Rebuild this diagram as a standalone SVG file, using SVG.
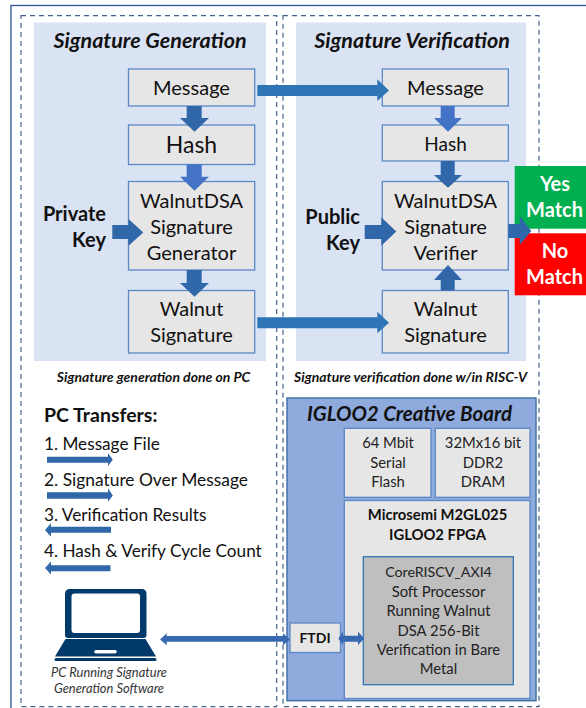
<svg xmlns="http://www.w3.org/2000/svg" width="586" height="708" viewBox="0 0 586 708">
<style>
text{font-family:"Lato","Open Sans","Liberation Sans",sans-serif;fill:#111;text-anchor:middle}
.t{font-size:20px}
.m{font-size:14.8px;fill:#222}
.h{font-size:21.5px;font-style:italic;font-weight:700}
.k{font-size:20px;font-weight:700;text-anchor:end}
.c{font-size:14px;font-style:italic;font-weight:700}
.l{font-size:17.2px;text-anchor:start}
.p{font-size:12.9px;font-style:italic;fill:#333}
.f{font-size:14.8px;font-weight:700}
.w{font-size:20px;font-weight:700;fill:#fff}
.box{fill:#e7e6e6;stroke:#5b88c6;stroke-width:1.3}
.panel{fill:#dae3f3}
.dash{fill:none;stroke:#44638f;stroke-width:1.2;stroke-dasharray:5 4}
.a{fill:#2e75b6}
.b{fill:#4472c4}
.s{fill:#2f67a8}
.d{fill:#3868b0}
.n{fill:#003a6b}
</style>
<rect x="11" y="5.500" width="590" height="720" fill="#fff" stroke="#2f5597" stroke-width="1.300"/>
<rect class="dash" x="21" y="15.700" width="255.700" height="691"/>
<rect class="dash" x="283" y="15.700" width="256" height="691"/>
<g id="gen-panel"><rect class="panel" x="34" y="22.500" width="232" height="338.500"/><text class="h" x="150" y="48">Signature Generation</text></g>
<g id="ver-panel"><rect class="panel" x="296" y="22.500" width="230" height="338.500"/><text class="h" x="412" y="48">Signature Verification</text></g>
<g id="gen-message"><rect class="box" x="128.500" y="69" width="126.200" height="37"/><text class="t" x="191.500" y="95">Message</text></g>
<g id="gen-hash"><rect class="box" x="128.500" y="125" width="126.200" height="39.500"/><text class="t" x="191.500" y="153" style="font-size:23px">Hash</text></g>
<g id="gen-walnutdsa"><rect class="box" x="128.500" y="181.500" width="126.200" height="88.500"/><text class="t" x="191.500" y="208">WalnutDSA</text><text class="t" x="191.500" y="234">Signature</text><text class="t" x="191.500" y="260">Generator</text></g>
<g id="gen-signature"><rect class="box" x="128.500" y="290.500" width="126.200" height="62.500"/><text class="t" x="191.500" y="316">Walnut</text><text class="t" x="191.500" y="342">Signature</text></g>
<g id="private-key"><text class="k" x="106" y="221">Private</text><text class="k" x="106" y="247">Key</text></g>
<g id="ver-message"><rect class="box" x="382.300" y="69" width="126" height="37"/><text class="t" x="445.500" y="95">Message</text></g>
<g id="ver-hash"><rect class="box" x="382.300" y="125" width="126" height="36"/><text class="t" x="445.500" y="151" style="font-size:19px">Hash</text></g>
<g id="ver-walnutdsa"><rect class="box" x="382.300" y="181.500" width="126" height="88.500"/><text class="t" x="445.500" y="208">WalnutDSA</text><text class="t" x="445.500" y="234">Signature</text><text class="t" x="445.500" y="260">Verifier</text></g>
<g id="ver-signature"><rect class="box" x="382.300" y="290.500" width="126" height="62.500"/><text class="t" x="445.500" y="316">Walnut</text><text class="t" x="445.500" y="342">Signature</text></g>
<g id="public-key"><text class="k" x="360" y="223.500">Public</text><text class="k" x="360" y="249.500">Key</text></g>
<g id="yes-match"><rect x="514.700" y="166" width="72" height="62.700" fill="#00b050"/><text class="w" x="555" y="191">Yes</text><text class="w" x="554.500" y="217">Match</text></g>
<g id="no-match"><rect x="514.700" y="233.300" width="72" height="62" fill="#f00"/><text class="w" x="555" y="258">No</text><text class="w" x="554.500" y="284">Match</text></g>
<text class="c" x="153.500" y="382">Signature generation done on PC</text>
<text class="c" x="410.500" y="382">Signature verification done w/in RISC-V</text>
<g id="pc-transfers">
<text x="44" y="422" style="font-size:19.500px;font-weight:700;text-anchor:start">PC Transfers:</text>
<text class="l" x="44" y="450">1. Message File</text>
<text class="l" x="44" y="486" style="font-size:17.400px">2. Signature Over Message</text>
<text class="l" x="44" y="521">3. Verification Results</text>
<text class="l" x="44" y="557">4. Hash &amp; Verify Cycle Count</text>
</g>
<g id="laptop">
<path class="n" fill-rule="evenodd" d="M69 589h73a4.500 4.500 0 0 1 4.500 4.500v41.500a3 3 0 0 1-3 3h-75.500a3 3 0 0 1-3-3v-41.500a4.500 4.500 0 0 1 4.500-4.500zM74.500 593.500a3 3 0 0 0-3 3v33.500a3 3 0 0 0 3 3h62.500a3 3 0 0 0 3-3v-33.500a3 3 0 0 0-3-3z"/>
<path class="n" fill-rule="evenodd" d="M65.500 639h80l10.500 17.500h-101zM96 650a1.800 1.800 0 0 0 0 3.600h19a1.800 1.800 0 0 0 0-3.600z"/>
<rect class="n" x="54.500" y="658" width="102" height="3" rx="1.500"/>
<text class="p" x="109" y="677">PC Running Signature</text>
<text class="p" x="109" y="693">Generation Software</text>
</g>
<g id="igloo2-board"><rect x="287" y="398" width="249" height="302.700" fill="#8faadc" stroke="#4472a8" stroke-width="1.500"/><text class="h" x="409.500" y="421" style="font-size:20.500px">IGLOO2 Creative Board</text></g>
<g id="flash"><rect class="box" x="344.300" y="428.300" width="86.700" height="69"/><text class="m" x="388" y="448">64 Mbit</text><text class="m" x="388" y="468">Serial</text><text class="m" x="388" y="487">Flash</text></g>
<g id="dram"><rect class="box" x="435.300" y="428.300" width="94.700" height="69"/><text class="m" x="483" y="448">32Mx16 bit</text><text class="m" x="483" y="468">DDR2</text><text class="m" x="483" y="487">DRAM</text></g>
<g id="fpga"><rect class="box" x="344.300" y="500.500" width="185.700" height="198"/><text class="f" x="437.500" y="520">Microsemi M2GL025</text><text class="f" x="437.500" y="540">IGLOO2 FPGA</text></g>
<g id="core"><rect x="363.300" y="556.700" width="150" height="128" fill="#bfbfbf" stroke="#2e75b6" stroke-width="1.300"/>
<text class="m" x="438.500" y="577" style="font-size:14.200px">CoreRISCV_AXI4</text><text class="m" x="438.500" y="597">Soft Processor</text><text class="m" x="438.500" y="616">Running Walnut</text><text class="m" x="438.500" y="636">DSA 256-Bit</text><text class="m" x="438.500" y="655">Verification in Bare</text><text class="m" x="438.500" y="674">Metal</text></g>
<g id="ftdi"><rect class="box" x="290" y="623" width="50.500" height="29.500"/><text x="315" y="643" style="font-size:14px;font-weight:700">FTDI</text></g>
<g id="connectors">
<path class="a" d="M257.300 85h120v-5.700l11.700 11.200-11.700 10.500v-5h-120z"/>
<path class="a" d="M257.300 317.300h120v-5.600l11.700 11.100-11.700 10.500v-5h-120z"/>
<path class="s" d="M186.700 106h15v12h7.300l-14.500 13.700-14.500-13.700h6.700z"/>
<path class="b" d="M186.700 164.500h15v12.200h7.300l-14.500 14-14.500-14h6.700z"/>
<path class="s" d="M186.700 270h15v13h7.300l-14.500 13.700-14.500-13.700h6.700z"/>
<path class="s" d="M112.300 225h16.200v-6l14.800 13.500-14.800 13.200v-6.700h-16.200z"/>
<path class="b" d="M440.700 106h14v12h7.300l-14 13.700-14-13.700h6.700z"/>
<path class="s" d="M440.700 161h14v14h7.300l-14 12.700-14-12.700h6.700z"/>
<path class="s" d="M364.700 225h16.600v-7.700l15 14.200-15 14.200v-6.700h-16.600z"/>
<path class="s" d="M440.700 290.500h14v-10.500h7.300l-14-15-14 15h6.700z"/>
<path class="s" d="M508.300 224h11.400v-8l11.600 15-11.600 14v-7h-11.400z"/>
<path class="s" d="M47 456.700h61v-3.700l4.800 6.700-4.800 6.300v-3.300h-61z"/>
<path class="s" d="M47 492.300h61v-4l4.800 7.200-4.800 6.200v-3h-61z"/>
<path class="s" d="M111 526.700h-60v-3.400l-6 6.700 6 6.700v-4h60z"/>
<path class="s" d="M110.500 565.300h-59.500v-3.800l-6 6.500 6 6.500v-3.200h59.500z"/>
<path class="d" d="M166.700 636h116.300v-2.700l7 6.200-7 5.800v-3.600h-116.300v3.600l-6.700-5.800 6.700-6.200z"/>
<path class="d" d="M343 635.700h15v-4l6.300 6.800-6.300 6.500v-3.300h-15v3.300l-4.700-6.500 4.700-6.800z"/>
</g>
</svg>
